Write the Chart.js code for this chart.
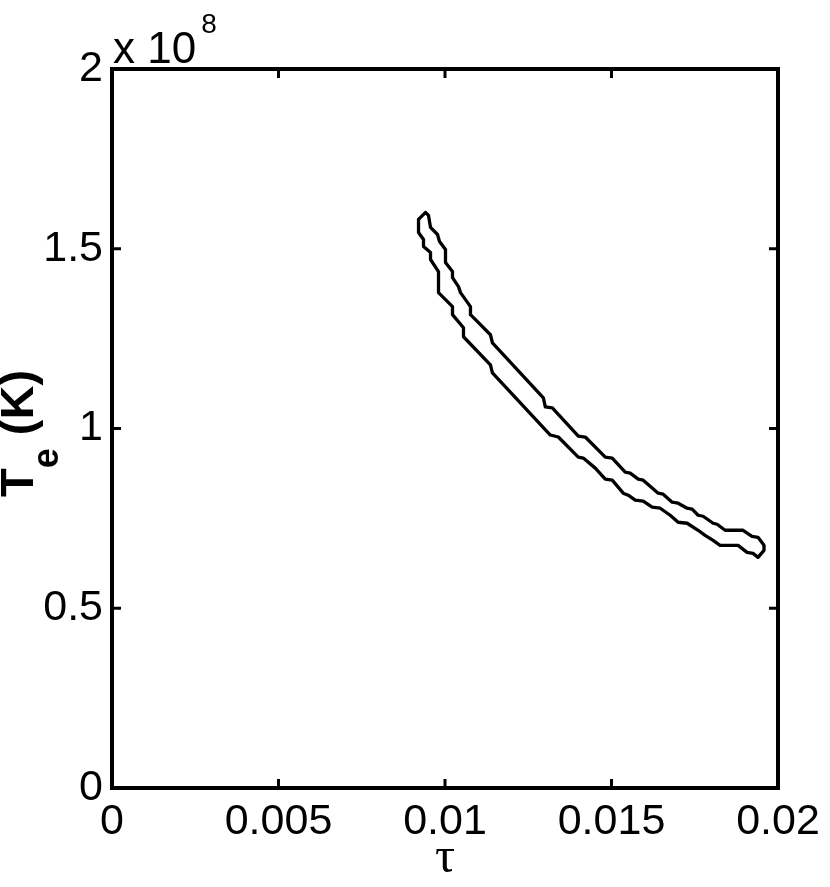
<!DOCTYPE html>
<html><head><meta charset="utf-8">
<script src="https://cdn.jsdelivr.net/npm/chart.js@4.4.1/dist/chart.umd.min.js"></script>
<style>html,body{margin:0;padding:0;background:#fff;overflow:hidden}canvas{display:block}</style>
</head><body>
<canvas id="c" width="830" height="887"></canvas>
<script>
// Closed contour: tau (x) and electron temperature Te (units of 1e8 K)
const tau = [
  0.009415,0.009505,0.009565,0.009775,0.009835,0.010015,0.010015,0.010225,0.010225,0.010405,
  0.010465,0.010765,0.010765,0.010975,0.011364,0.011424,0.012954,0.013013,0.013223,0.014003,
  0.014213,0.014813,0.015022,0.015412,0.015562,0.015802,0.015952,0.016402,0.016552,0.016822,
  0.017001,0.017271,0.017421,0.017601,0.017751,0.018051,0.018171,0.018411,0.018951,0.019220,
  0.019400,0.019580,0.019580,0.019400,
  0.019250,0.019070,0.018801,0.018261,0.018051,0.017811,0.017601,0.017271,0.017001,0.016762,
  0.016462,0.016222,0.015952,0.015712,0.015502,0.015352,0.015022,0.014813,0.014513,0.014153,
  0.014003,0.013403,0.013163,0.011424,0.011364,0.010555,0.010555,0.010225,0.010225,0.009805,
  0.009805,
  0.009565,0.009565,0.009355,0.009355,0.009205,0.009205
];
const Te = [
  1.6011,1.5927,1.5593,1.5397,1.5202,1.4979,1.4616,1.4365,1.4198,1.3947,
  1.3780,1.3389,1.3166,1.2971,1.2608,1.2385,1.0851,1.0600,1.0572,0.9791,
  0.9763,0.9205,0.9177,0.8787,0.8759,0.8591,0.8563,0.8201,0.8173,0.7950,
  0.7922,0.7782,0.7755,0.7587,0.7559,0.7364,0.7336,0.7169,0.7169,0.7001,
  0.6974,0.6750,0.6611,0.6416,
  0.6527,0.6555,0.6750,0.6750,0.6890,0.7029,0.7169,0.7364,0.7392,0.7587,
  0.7782,0.7810,0.7978,0.8006,0.8145,0.8201,0.8563,0.8591,0.8898,0.9177,
  0.9205,0.9763,0.9819,1.1548,1.1771,1.2552,1.2803,1.3166,1.3389,1.3780,
  1.4365,
  1.4700,1.4895,1.5063,1.5258,1.5453,1.5816
];
const xTicks = [0, 0.005, 0.01, 0.015, 0.02];
const xTickLabels = ['0', '0.005', '0.01', '0.015', '0.02'];
const yTicks = [0, 0.5, 1, 1.5, 2];
const yTickLabels = ['0', '0.5', '1', '1.5', '2'];
const yExponent = '8';
const xTitle = '\u03C4';
const yTitleMain = 'T', yTitleSub = 'e', yTitleUnit = ' (K)';

const points = tau.map((t, i) => ({x: t, y: Te[i]}));
points.push({x: tau[0], y: Te[0]});

const SANS = '"Liberation Sans", Arial, Helvetica, sans-serif';

const frame = {
  id: 'frame',
  afterDatasetsDraw(chart) {
    const {ctx, chartArea: a, scales: {x, y}} = chart;
    ctx.save();
    ctx.strokeStyle = '#000';
    ctx.lineWidth = 4;
    ctx.strokeRect(a.left, a.top, a.right - a.left, a.bottom - a.top);
    ctx.lineWidth = 3;
    const L = 9;
    ctx.beginPath();
    xTicks.forEach(v => {
      const p = x.getPixelForValue(v);
      ctx.moveTo(p, a.bottom); ctx.lineTo(p, a.bottom - L);
      ctx.moveTo(p, a.top); ctx.lineTo(p, a.top + L);
    });
    yTicks.forEach(v => {
      const p = y.getPixelForValue(v);
      ctx.moveTo(a.left, p); ctx.lineTo(a.left + L, p);
      ctx.moveTo(a.right, p); ctx.lineTo(a.right - L, p);
    });
    ctx.stroke();

    ctx.fillStyle = '#000';
    // exponent label
    ctx.textAlign = 'left';
    ctx.textBaseline = 'alphabetic';
    ctx.font = '44px ' + SANS;
    ctx.fillText('x 10', a.left + 1, 63);
    const w = ctx.measureText('x 10').width;
    ctx.font = '28px ' + SANS;
    ctx.fillText(yExponent, a.left + w + 6, 33);

    // x title
    ctx.textAlign = 'center';
    ctx.font = '50px "Liberation Serif", "Times New Roman", serif';
    ctx.fillText(xTitle, (a.left + a.right) / 2, 872);

    // y title (rotated, with subscript)
    ctx.translate(33, 497);
    ctx.rotate(-Math.PI / 2);
    ctx.textAlign = 'left';
    ctx.font = 'bold 47px ' + SANS;
    ctx.fillText(yTitleMain, 0, 0);
    const w1 = ctx.measureText(yTitleMain).width;
    ctx.font = 'bold 36px ' + SANS;
    ctx.fillText(yTitleSub, w1, 25);
    const w2 = ctx.measureText(yTitleSub).width;
    ctx.font = 'bold 47px ' + SANS;
    ctx.fillText(yTitleUnit, w1 + w2, 0);
    ctx.restore();
  }
};

new Chart(document.getElementById('c'), {
  type: 'scatter',
  data: {
    datasets: [{
      data: points,
      showLine: true,
      borderColor: '#000',
      borderWidth: 3.3,
      borderJoinStyle: 'round',
      borderCapStyle: 'round',
      pointRadius: 0,
      pointHoverRadius: 0,
      tension: 0,
      fill: false
    }]
  },
  options: {
    responsive: false,
    devicePixelRatio: 1,
    animation: false,
    events: [],
    layout: {padding: {left: 0, top: 69, right: 52, bottom: 0}},
    plugins: {legend: {display: false}, tooltip: {enabled: false}, title: {display: false}},
    scales: {
      x: {
        type: 'linear', min: 0, max: 0.02,
        afterBuildTicks: s => { s.ticks = xTicks.map(v => ({value: v})); },
        afterFit: s => { s.height = 99; },
        grid: {display: false, drawTicks: false},
        border: {display: false},
        ticks: {
          maxRotation: 0, autoSkip: false, padding: 8, color: '#000',
          font: {family: SANS, size: 43},
          callback: (v, i) => xTickLabels[i]
        }
      },
      y: {
        type: 'linear', min: 0, max: 2,
        afterBuildTicks: s => { s.ticks = yTicks.map(v => ({value: v})); },
        afterFit: s => { s.width = 112; },
        grid: {display: false, drawTicks: false},
        border: {display: false},
        ticks: {
          autoSkip: false, padding: 9, color: '#000',
          font: {family: SANS, size: 43},
          callback: (v, i) => yTickLabels[i]
        }
      }
    }
  },
  plugins: [frame]
});
</script>
</body></html>
